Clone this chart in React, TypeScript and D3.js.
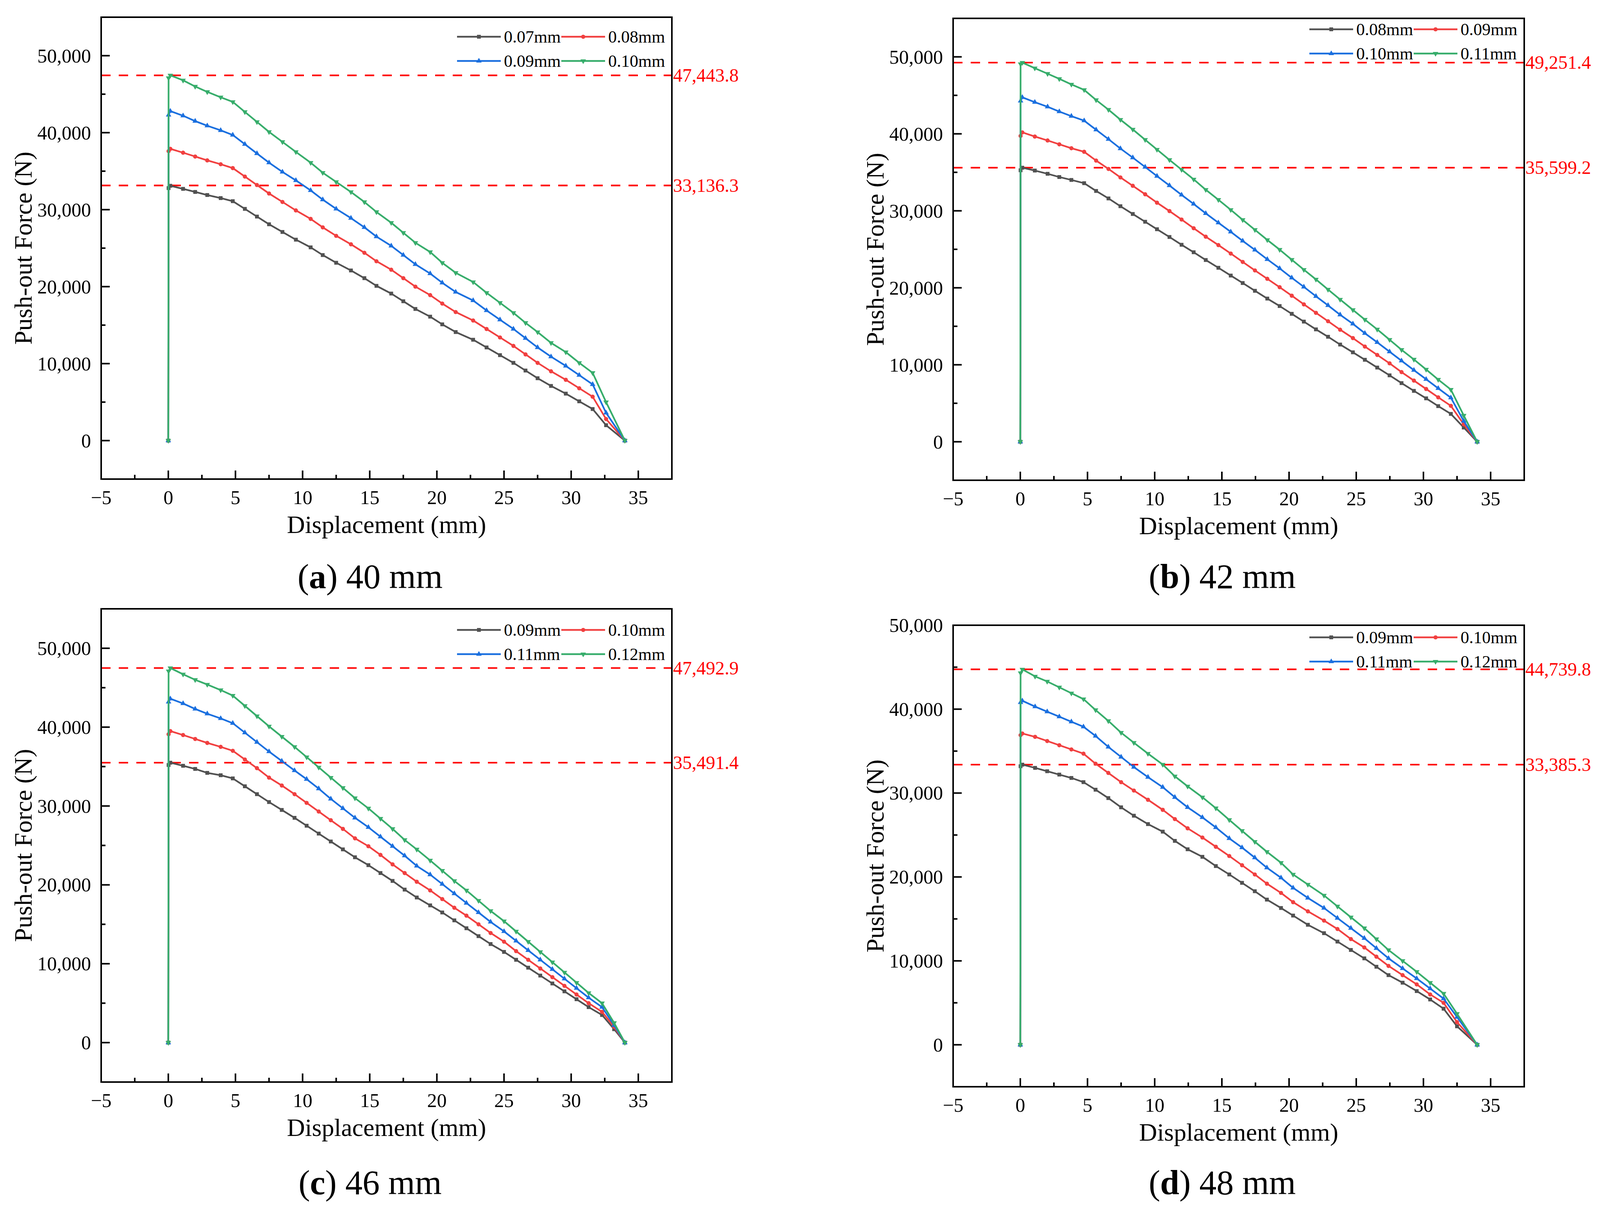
import React from "react";
import * as d3 from "d3";

// displacement (mm) sampled by each panel
const xA = [0, 0.02, 0.15, 1.1, 2.0, 2.9, 3.9, 4.8, 5.7, 6.6, 7.5, 8.5, 9.5, 10.6, 11.5, 12.5, 13.6, 14.6, 15.5, 16.6, 17.5, 18.4, 19.5, 20.4, 21.4, 22.7, 23.7, 24.7, 25.7, 26.6, 27.5, 28.5, 29.6, 30.6, 31.6, 32.6, 34.0];
const xB = [0, 0.02, 0.15, 1.08, 2.03, 2.9, 3.8, 4.75, 5.64, 6.56, 7.45, 8.37, 9.29, 10.17, 11.1, 12.0, 12.9, 13.8, 14.74, 15.66, 16.55, 17.46, 18.38, 19.3, 20.2, 21.1, 22.0, 22.9, 23.8, 24.75, 25.64, 26.56, 27.48, 28.37, 29.29, 30.2, 31.1, 32.04, 33.0, 34.0];
const xC = [0, 0.02, 0.15, 1.1, 2.0, 2.9, 3.9, 4.8, 5.7, 6.6, 7.5, 8.45, 9.4, 10.3, 11.2, 12.1, 13.0, 13.9, 14.9, 15.8, 16.7, 17.6, 18.5, 19.5, 20.4, 21.3, 22.2, 23.1, 24.0, 25.0, 25.9, 26.8, 27.7, 28.6, 29.5, 30.4, 31.3, 32.3, 33.2, 34.0];
const xD = [0, 0.02, 0.15, 1.1, 2.0, 2.9, 3.8, 4.7, 5.6, 6.55, 7.5, 8.45, 9.5, 10.6, 11.5, 12.45, 13.55, 14.55, 15.55, 16.5, 17.45, 18.35, 19.4, 20.3, 21.4, 22.6, 23.6, 24.6, 25.6, 26.5, 27.4, 28.45, 29.5, 30.5, 31.5, 32.5, 34.0];

// (a) 40 mm
const a07 = [0, 32800, 33100, 32700, 32300, 31900, 31500, 31100, 30100, 29100, 28100, 27100, 26100, 25100, 24100, 23100, 22100, 21100, 20100, 19100, 18100, 17100, 16100, 15100, 14100, 13100, 12100, 11100, 10100, 9100, 8100, 7100, 6100, 5100, 4100, 2000, 0];
const a08 = [0, 37600, 37900, 37400, 36900, 36400, 35900, 35400, 34300, 33200, 32100, 31000, 29900, 28800, 27700, 26600, 25500, 24400, 23300, 22200, 21100, 20000, 18900, 17800, 16700, 15600, 14500, 13400, 12300, 11200, 10100, 9000, 7900, 6800, 5700, 2800, 0];
const a09 = [0, 42300, 42800, 42200, 41500, 40900, 40300, 39700, 38500, 37300, 36100, 34900, 33800, 32500, 31300, 30100, 28900, 27700, 26500, 25300, 24100, 22900, 21700, 20500, 19300, 18200, 16900, 15700, 14500, 13300, 12100, 10900, 9700, 8500, 7300, 3600, 0];
const a10 = [0, 47100, 47444, 46800, 46000, 45300, 44600, 44000, 42700, 41400, 40100, 38800, 37500, 36100, 34800, 33600, 32300, 31000, 29700, 28300, 27000, 25700, 24500, 23100, 21800, 20600, 19200, 17900, 16600, 15300, 14100, 12700, 11500, 10100, 8800, 5000, 0];

// (b) 42 mm
const b08 = [0, 35270, 35599, 35230, 34810, 34390, 34010, 33590, 32580, 31610, 30600, 29590, 28580, 27610, 26600, 25590, 24620, 23610, 22600, 21590, 20620, 19610, 18600, 17630, 16620, 15610, 14600, 13640, 12630, 11620, 10650, 9640, 8630, 7620, 6610, 5640, 4630, 3620, 1850, 0];
const b09 = [0, 39730, 40190, 39650, 39140, 38640, 38130, 37670, 36530, 35440, 34340, 33250, 32150, 31060, 29970, 28870, 27740, 26640, 25550, 24450, 23360, 22260, 21170, 20080, 18980, 17850, 16750, 15660, 14560, 13470, 12370, 11280, 10190, 9050, 7950, 6860, 5770, 4670, 2270, 0];
const b10 = [0, 44280, 44740, 44110, 43520, 42890, 42300, 41710, 40530, 39310, 38090, 36910, 35690, 34510, 33290, 32070, 30890, 29670, 28450, 27270, 26090, 24920, 23700, 22520, 21300, 20120, 18900, 17720, 16500, 15320, 14100, 12920, 11700, 10520, 9300, 8120, 6940, 5720, 2690, 0];
const b11 = [0, 49070, 49251, 48530, 47810, 47140, 46420, 45710, 44400, 43140, 41840, 40570, 39230, 37960, 36620, 35350, 34090, 32740, 31440, 30130, 28830, 27530, 26220, 24960, 23650, 22350, 21090, 19780, 18480, 17130, 15870, 14600, 13260, 11950, 10690, 9390, 8080, 6780, 3410, 0];

// (c) 46 mm
const c09 = [0, 35200, 35491, 35100, 34700, 34200, 33900, 33500, 32500, 31500, 30500, 29500, 28500, 27500, 26500, 25500, 24500, 23500, 22500, 21500, 20500, 19400, 18400, 17400, 16500, 15500, 14500, 13500, 12500, 11500, 10500, 9500, 8500, 7500, 6500, 5500, 4500, 3500, 1700, 0];
const c10 = [0, 39100, 39500, 39000, 38500, 38000, 37500, 37000, 35900, 34800, 33600, 32600, 31500, 30400, 29300, 28200, 27100, 25900, 24900, 23800, 22600, 21500, 20400, 19300, 18200, 17100, 16100, 15000, 13900, 12800, 11600, 10500, 9400, 8300, 7200, 6100, 5000, 3900, 2000, 0];
const c11 = [0, 43200, 43600, 43000, 42300, 41700, 41100, 40500, 39300, 38100, 36900, 35700, 34500, 33400, 32200, 30900, 29700, 28500, 27300, 26100, 24900, 23700, 22400, 21300, 20100, 18900, 17700, 16500, 15300, 14100, 12900, 11700, 10500, 9300, 8100, 6900, 5700, 4500, 2200, 0];
const c12 = [0, 47100, 47493, 46700, 46000, 45400, 44700, 44000, 42700, 41400, 40100, 38800, 37500, 36200, 34900, 33600, 32300, 31000, 29700, 28400, 27100, 25700, 24500, 23100, 21800, 20500, 19300, 18000, 16700, 15400, 14100, 12800, 11500, 10200, 8900, 7600, 6300, 5000, 2500, 0];

// (d) 48 mm
const d09 = [0, 33200, 33385, 33000, 32600, 32200, 31800, 31300, 30400, 29400, 28300, 27300, 26300, 25400, 24300, 23300, 22400, 21300, 20300, 19300, 18300, 17300, 16300, 15400, 14300, 13300, 12300, 11300, 10300, 9300, 8300, 7400, 6400, 5400, 4300, 2200, 0];
const d10 = [0, 36900, 37100, 36700, 36200, 35700, 35200, 34700, 33500, 32400, 31300, 30300, 29200, 28000, 26900, 25800, 24700, 23600, 22500, 21400, 20300, 19200, 18100, 17000, 15900, 14800, 13800, 12600, 11600, 10500, 9400, 8300, 7200, 6000, 5000, 2700, 0];
const d11 = [0, 40800, 41000, 40300, 39700, 39100, 38500, 37900, 36800, 35500, 34300, 33100, 31900, 30700, 29500, 28300, 27100, 25900, 24600, 23500, 22300, 21100, 19900, 18700, 17500, 16300, 15100, 13900, 12700, 11500, 10300, 9100, 7900, 6700, 5500, 3300, 0];
const d12 = [0, 44300, 44740, 43900, 43300, 42600, 41900, 41200, 39900, 38600, 37200, 36000, 34700, 33400, 32000, 30800, 29500, 28200, 26800, 25500, 24200, 23000, 21700, 20300, 19100, 17800, 16500, 15200, 13900, 12600, 11300, 10000, 8700, 7400, 6100, 3700, 0];

const labelsA = ["0.07mm", "0.08mm", "0.09mm", "0.10mm"];
const labelsB = ["0.08mm", "0.09mm", "0.10mm", "0.11mm"];
const labelsCD = ["0.09mm", "0.10mm", "0.11mm", "0.12mm"];

const refA = [47443.8, 33136.3];
const refB = [49251.4, 35599.2];
const refC = [47492.9, 35491.4];
const refD = [44739.8, 33385.3];

const COLORS = ["#515151", "#F14040", "#1A6FDF", "#37AD6B"];
const FONT = "'Liberation Serif', 'Times New Roman', serif";

type PanelDef = {
  tag: string;
  size: string;
  xs: number[];
  series: number[][];
  labels: string[];
  refs: number[];
  yMax: number;
  box: [number, number, number, number];
  legendDy: number;
  captionY: number;
};

const panels: PanelDef[] = [
  { tag: "a", size: "40 mm", xs: xA, series: [a07, a08, a09, a10], labels: labelsA, refs: refA, yMax: 55000, box: [259, 1720, 44, 1226], legendDy: 50, captionY: 1475 },
  { tag: "b", size: "42 mm", xs: xB, series: [b08, b09, b10, b11], labels: labelsB, refs: refB, yMax: 55000, box: [2440, 3902, 47, 1229], legendDy: 28, captionY: 1475 },
  { tag: "c", size: "46 mm", xs: xC, series: [c09, c10, c11, c12], labels: labelsCD, refs: refC, yMax: 55000, box: [259, 1720, 1558, 2769], legendDy: 54, captionY: 3026 },
  { tag: "d", size: "48 mm", xs: xD, series: [d09, d10, d11, d12], labels: labelsCD, refs: refD, yMax: 50000, box: [2440, 3902, 1600, 2781], legendDy: 31, captionY: 3026 },
];

const symbolPaths = [
  d3.symbol().type(d3.symbolSquare).size(95)()!,
  d3.symbol().type(d3.symbolCircle).size(90)()!,
  d3.symbol().type(d3.symbolTriangle).size(85)()!,
  d3.symbol().type(d3.symbolTriangle).size(85)()!,
];

function Marker({ k, cx, cy }: { k: number; cx: number; cy: number }) {
  const rot = k === 3 ? " rotate(180)" : "";
  return <path d={symbolPaths[k]} transform={`translate(${cx},${cy})${rot}`} fill={COLORS[k]} />;
}

const fmtTick = d3.format(",");
const fmtRef = d3.format(",.1f");

function Panel({ p }: { p: PanelDef }) {
  const [l, r, t, b] = p.box;
  const x = d3.scaleLinear().domain([-5, 37.5]).range([l, r]);
  const y = d3.scaleLinear().domain([-5000, p.yMax]).range([b, t]);
  const line = d3.line<number>().x((_, i) => x(p.xs[i])).y((d) => y(d));

  const majorX = d3.range(-5, 36, 5);
  const minorX = d3.range(-2.5, 36, 5);
  const majorY = d3.range(0, p.yMax + 1, 10000);
  const minorY = d3.range(5000, p.yMax, 10000);
  const cx = (l + r) / 2;
  const cy = (t + b) / 2;
  const row1 = t + p.legendDy;
  const rows = [row1, row1, row1 + 62, row1 + 62];
  const cols = [r - 550, r - 283, r - 550, r - 283];

  return (
    <g>
      {/* reference lines */}
      {p.refs.map((v) => (
        <g key={v}>
          <line x1={l} x2={r} y1={y(v)} y2={y(v)} stroke="#ff0000" strokeWidth={4.2} strokeDasharray="24 21" />
          <text x={r + 3} y={y(v) + 5} fill="#ff0000" fontSize={48} fontFamily={FONT} dominantBaseline="middle">
            {fmtRef(v)}
          </text>
        </g>
      ))}

      {/* series */}
      {p.series.map((s, k) => (
        <g key={k}>
          <path d={line(s)!} fill="none" stroke={COLORS[k]} strokeWidth={4.3} strokeLinejoin="round" />
          {s.map((v, i) => (
            <Marker key={i} k={k} cx={x(p.xs[i])} cy={y(v)} />
          ))}
        </g>
      ))}

      {/* frame and ticks */}
      <rect x={l} y={t} width={r - l} height={b - t} fill="none" stroke="#000" strokeWidth={4} />
      {majorX.map((v) => (
        <line key={"mx" + v} x1={x(v)} x2={x(v)} y1={b} y2={b - 22} stroke="#000" strokeWidth={4} />
      ))}
      {minorX.map((v) => (
        <line key={"nx" + v} x1={x(v)} x2={x(v)} y1={b} y2={b - 11} stroke="#000" strokeWidth={4} />
      ))}
      {majorY.map((v) => (
        <line key={"my" + v} x1={l} x2={l + 22} y1={y(v)} y2={y(v)} stroke="#000" strokeWidth={4} />
      ))}
      {minorY.map((v) => (
        <line key={"ny" + v} x1={l} x2={l + 11} y1={y(v)} y2={y(v)} stroke="#000" strokeWidth={4} />
      ))}

      {/* tick labels */}
      {majorX.map((v) => (
        <text key={"lx" + v} x={x(v)} y={b + 64} textAnchor="middle" fontSize={50} fontFamily={FONT}>
          {v < 0 ? "\u2212" + Math.abs(v) : v}
        </text>
      ))}
      {majorY.map((v) => (
        <text key={"ly" + v} x={l - 26} y={y(v)} textAnchor="end" dominantBaseline="central" fontSize={50} fontFamily={FONT}>
          {fmtTick(v)}
        </text>
      ))}

      {/* axis titles */}
      <text x={cx} y={b + 116} textAnchor="middle" dominantBaseline="central" fontSize={64} fontFamily={FONT}>
        Displacement (mm)
      </text>
      <text
        transform={`translate(${l - 200},${cy}) rotate(-90)`}
        textAnchor="middle"
        dominantBaseline="central"
        fontSize={64}
        fontFamily={FONT}
      >
        Push-out Force (N)
      </text>

      {/* legend */}
      {p.labels.map((lab, k) => (
        <g key={lab + k}>
          <line x1={cols[k]} x2={cols[k] + 112} y1={rows[k]} y2={rows[k]} stroke={COLORS[k]} strokeWidth={4.3} />
          <Marker k={k} cx={cols[k] + 56} cy={rows[k]} />
          <text x={cols[k] + 120} y={rows[k]} dominantBaseline="central" fontSize={44} fontFamily={FONT}>
            {lab}
          </text>
        </g>
      ))}

      {/* caption */}
      <text x={cx - 42} y={p.captionY} textAnchor="middle" dominantBaseline="central" fontSize={88} fontFamily={FONT}>
        (<tspan fontWeight="bold">{p.tag}</tspan>) {p.size}
      </text>
    </g>
  );
}

export default function App() {
  return (
    <svg
      width={4108}
      height={3099}
      viewBox="0 0 4108 3099"
      style={{ position: "absolute", left: 0, top: 0, background: "#fff" }}
    >
      <rect width={4108} height={3099} fill="#fff" />
      {panels.map((p) => (
        <Panel key={p.tag} p={p} />
      ))}
    </svg>
  );
}
